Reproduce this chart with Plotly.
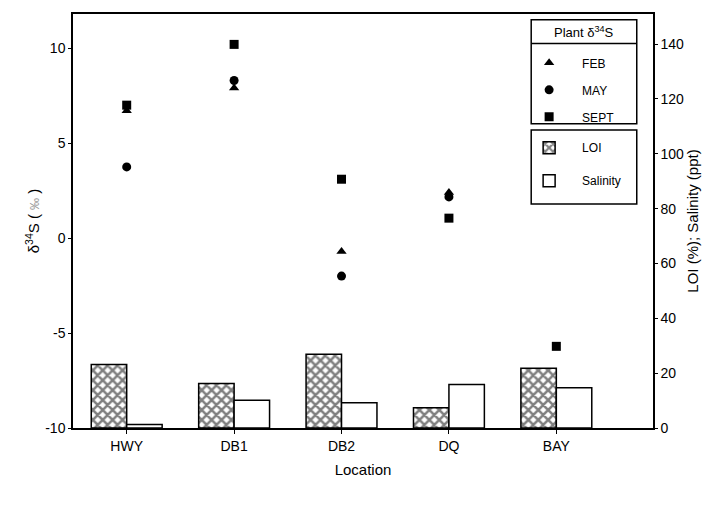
import plotly.graph_objects as go

locations = ["HWY", "DB1", "DB2", "DQ", "BAY"]
feb = [6.7, 7.9, -0.7, 2.4, None]
may = [3.75, 8.3, -2.0, 2.17, None]
sept = [7.0, 10.2, 3.1, 1.05, -5.7]
loi = [23.2, 16.2, 26.9, 7.4, 21.8]
salinity = [1.3, 10.1, 9.2, 15.9, 14.7]
left_ticks = [-10, -5, 0, 5, 10]
left_ticktext = ["-10", "-5", "0", "5", "10"]
right_ticks = [0, 20, 40, 60, 80, 100, 120, 140]

FONT = "Liberation Sans, Arial, sans-serif"

fig = go.Figure()

fig.add_trace(go.Bar(
    x=locations, y=loi, name="LOI", yaxis="y2", width=0.33, offset=-0.33,
    marker=dict(color="white", line=dict(color="black", width=1.5),
                pattern=dict(shape="x", fgcolor="black", bgcolor="white", size=7, solidity=0.6)),
    legend="legend2", legendgroup="loi"))
fig.add_trace(go.Bar(
    x=locations, y=salinity, name="Salinity", yaxis="y2", width=0.33, offset=0,
    marker=dict(color="white", line=dict(color="black", width=1.5)),
    legend="legend2", legendgroup="sal"))

for name, vals, sym, grp in [("FEB", feb, "triangle-up", "a"), ("MAY", may, "circle", "b"), ("SEPT", sept, "square", "c")]:
    fig.add_trace(go.Scatter(
        x=locations, y=vals, mode="markers", name=name, yaxis="y",
        marker=dict(symbol=sym, color="black", size=9),
        legend="legend", legendgroup=grp))

fig.update_layout(
    width=715, height=506,
    margin=dict(l=73, r=62, t=14, b=78),
    paper_bgcolor="white", plot_bgcolor="white",
    font=dict(family=FONT, size=14, color="black"),
    barmode="overlay",
    showlegend=True,
    xaxis=dict(
        range=[-0.5, 4.9], showline=True, linecolor="black", linewidth=1.5, mirror=True,
        ticks="outside", ticklen=4, tickcolor="black", showgrid=False, zeroline=False,
        title=dict(text="Location", font=dict(size=15), standoff=12),
        tickfont=dict(size=14)),
    yaxis=dict(
        range=[-10, 11.8], tickvals=left_ticks, ticktext=left_ticktext, showline=True,
        linecolor="black", linewidth=1.5, ticks="outside", ticklen=3, tickcolor="black",
        showgrid=False, zeroline=False, tickfont=dict(size=14),
        title=dict(text="δ<sup>34</sup>S ( <span style='color:#999999;font-size:12px'>‰</span> )",
                   font=dict(size=15), standoff=2)),
    yaxis2=dict(
        range=[0, 151], tickvals=right_ticks, overlaying="y", side="right",
        showline=True, linecolor="black", linewidth=1.5, ticks="outside", ticklen=3,
        tickcolor="black", showgrid=False, zeroline=False, tickfont=dict(size=14),
        title=dict(text="LOI (%); Salinity (ppt)", font=dict(size=15), standoff=2)),
    legend=dict(
        x=0.764, y=0.917, xanchor="left", yanchor="top", bgcolor="rgba(0,0,0,0)",
        borderwidth=0, font=dict(size=12, family=FONT), traceorder="grouped",
        tracegroupgap=8, itemwidth=56),
    legend2=dict(
        x=0.764, y=0.712, xanchor="left", yanchor="top", bgcolor="rgba(0,0,0,0)",
        borderwidth=0, font=dict(size=12, family=FONT), traceorder="grouped",
        tracegroupgap=14, itemwidth=56),
    annotations=[
        dict(text="Plant δ<sup>34</sup>S", xref="paper", yref="paper", x=0.881, y=0.957,
             xanchor="center", yanchor="middle", showarrow=False, font=dict(size=13, family=FONT)),
    ],
    shapes=[
        dict(type="rect", xref="paper", yref="paper", x0=0.79, x1=0.972, y0=0.735, y1=0.986,
             line=dict(color="black", width=1.5)),
        dict(type="line", xref="paper", yref="paper", x0=0.79, x1=0.972, y0=0.929, y1=0.929,
             line=dict(color="black", width=1.5)),
        dict(type="rect", xref="paper", yref="paper", x0=0.79, x1=0.972, y0=0.541, y1=0.720,
             line=dict(color="black", width=1.5)),
    ],
)

fig.write_html("out.html", config={"displayModeBar": False},
               post_script="document.body.style.margin='0';")
